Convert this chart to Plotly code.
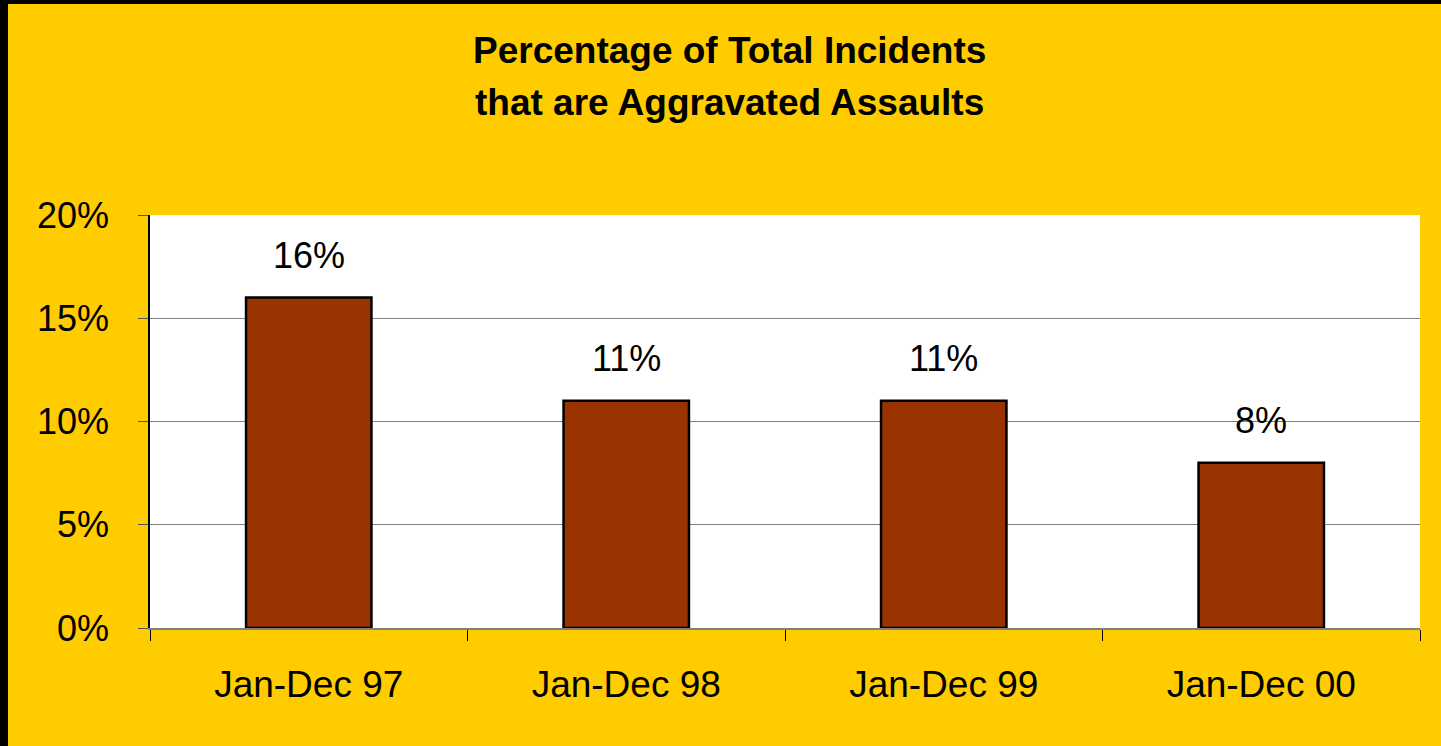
import plotly.graph_objects as go

categories = ["Jan-Dec 97", "Jan-Dec 98", "Jan-Dec 99", "Jan-Dec 00"]
values = [0.16, 0.11, 0.11, 0.08]
value_labels = ["16%", "11%", "11%", "8%"]
title_lines = ["Percentage of Total Incidents", "that are Aggravated Assaults"]

W, H = 1441, 746
ML, MR, MT, MB = 150, 21, 215, 118
PW, PH = W - ML - MR, H - MT - MB

FONT = "Liberation Sans, Arial, sans-serif"

fig = go.Figure()
fig.add_trace(go.Bar(
    x=categories, y=values,
    marker=dict(color="#993300", line=dict(color="black", width=2.5)),
    width=0.395,
    hoverinfo="skip",
))

for c, v, t in zip(categories, values, value_labels):
    fig.add_annotation(x=c, y=v, text=t, showarrow=False, yanchor="bottom",
                       yshift=20, font=dict(family=FONT, size=36, color="black"))

# title, one annotation per line so the line spacing can match
for line, ypix in zip(title_lines, [50, 102]):
    fig.add_annotation(xref="paper", yref="paper", x=(729 - ML) / PW, y=(H - MB - ypix) / PH,
                       text="<b>" + line + "</b>", showarrow=False,
                       xanchor="center", yanchor="middle", align="center",
                       font=dict(family=FONT, size=37, color="black"))

# black frame strips on the left and top edge
fig.add_shape(type="rect", xref="paper", yref="paper", x0=-ML / PW, x1=(8 - ML) / PW,
              y0=-MB / PH, y1=(H - MB) / PH, fillcolor="black", line_width=0, layer="above")
fig.add_shape(type="rect", xref="paper", yref="paper", x0=-ML / PW, x1=(W - ML) / PW,
              y0=(H - MB - 4) / PH, y1=(H - MB) / PH, fillcolor="black", line_width=0, layer="above")

fig.update_layout(
    width=W, height=H,
    margin=dict(l=ML, r=MR, t=MT, b=MB, pad=0),
    paper_bgcolor="#FFCC00", plot_bgcolor="white",
    showlegend=False,
    font=dict(family=FONT, size=36, color="black"),
    xaxis=dict(
        showgrid=False, showline=True, linecolor="#808080", linewidth=2,
        ticks="outside", tickson="boundaries", ticklen=11, tickcolor="black", tickwidth=1,
        ticklabelstandoff=23, tickfont=dict(family=FONT, size=37, color="black"),
    ),
    yaxis=dict(
        range=[0, 0.2], dtick=0.05, tickformat=".0%",
        showgrid=True, gridcolor="#808080", gridwidth=1,
        showline=True, linecolor="black", linewidth=1.5,
        ticks="outside", ticklen=10, tickcolor="#555555", tickwidth=1,
        ticklabelstandoff=22, zeroline=False,
        tickfont=dict(family=FONT, size=36, color="black"),
    ),
)

fig.write_html("out.html", config={"displayModeBar": False}, post_script=(
    "document.body.style.margin='0';document.body.style.padding='0';"
    "document.body.style.background='#FFCC00';"
    "document.documentElement.style.overflow='hidden';"))
